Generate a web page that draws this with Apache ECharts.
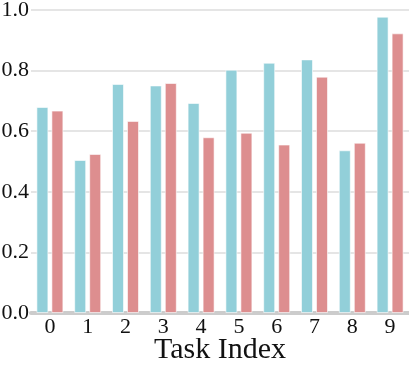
<!DOCTYPE html>
<html>
<head>
<meta charset="utf-8">
<script src="https://cdn.jsdelivr.net/npm/echarts@6/dist/echarts.min.js"></script>
<style>
  html, body { margin: 0; padding: 0; background: #fff; }
  #chart { width: 409px; height: 365px; }
</style>
</head>
<body>
<div id="chart"></div>
<script>
// data
const categories = ['0', '1', '2', '3', '4', '5', '6', '7', '8', '9']
const seriesA = [0.680, 0.505, 0.756, 0.751, 0.693, 0.803, 0.826, 0.837, 0.537, 0.978]
const seriesB = [0.668, 0.525, 0.634, 0.759, 0.580, 0.595, 0.556, 0.780, 0.562, 0.923]

const serif = '"Liberation Serif", "Times New Roman", serif'

const myChart = echarts.init(document.getElementById('chart'))

const barStyle = (color) => ({
  color: color,
  borderColor: 'rgba(255,255,255,0.6)',
  borderWidth: 1
})

const option = {
  backgroundColor: '#fff',
  animation: false,
  grid: {
    top: 10,
    left: 31,
    right: 0,
    bottom: 52,
    containLabel: false,
    outerBoundsMode: 'none'
  },
  xAxis: {
    type: 'category',
    data: categories,
    name: 'Task Index',
    nameLocation: 'middle',
    nameGap: 22,
    nameMoveOverlap: false,
    nameTextStyle: { fontFamily: serif, fontSize: 30, color: '#111' },
    axisLine: { show: true, lineStyle: { color: '#cccccc', width: 4 } },
    axisTick: { show: false },
    axisLabel: { fontFamily: serif, fontSize: 22, color: '#111', margin: 3 }
  },
  yAxis: {
    type: 'value',
    min: 0,
    max: 1,
    interval: 0.2,
    axisLine: { show: false },
    axisTick: { show: false },
    axisLabel: {
      fontFamily: serif,
      fontSize: 22,
      color: '#111',
      margin: 2,
      formatter: (v) => v.toFixed(1)
    },
    splitLine: { show: true, lineStyle: { color: '#e5e5e5', width: 2 } }
  },
  series: [
    {
      type: 'bar',
      data: seriesA,
      barWidth: 12,
      barGap: '25%',
      itemStyle: barStyle('#92cfd9')
    },
    {
      type: 'bar',
      data: seriesB,
      barWidth: 12,
      barGap: '25%',
      itemStyle: barStyle('#dd8e8f')
    }
  ]
}

myChart.setOption(option)
</script>
</body>
</html>
